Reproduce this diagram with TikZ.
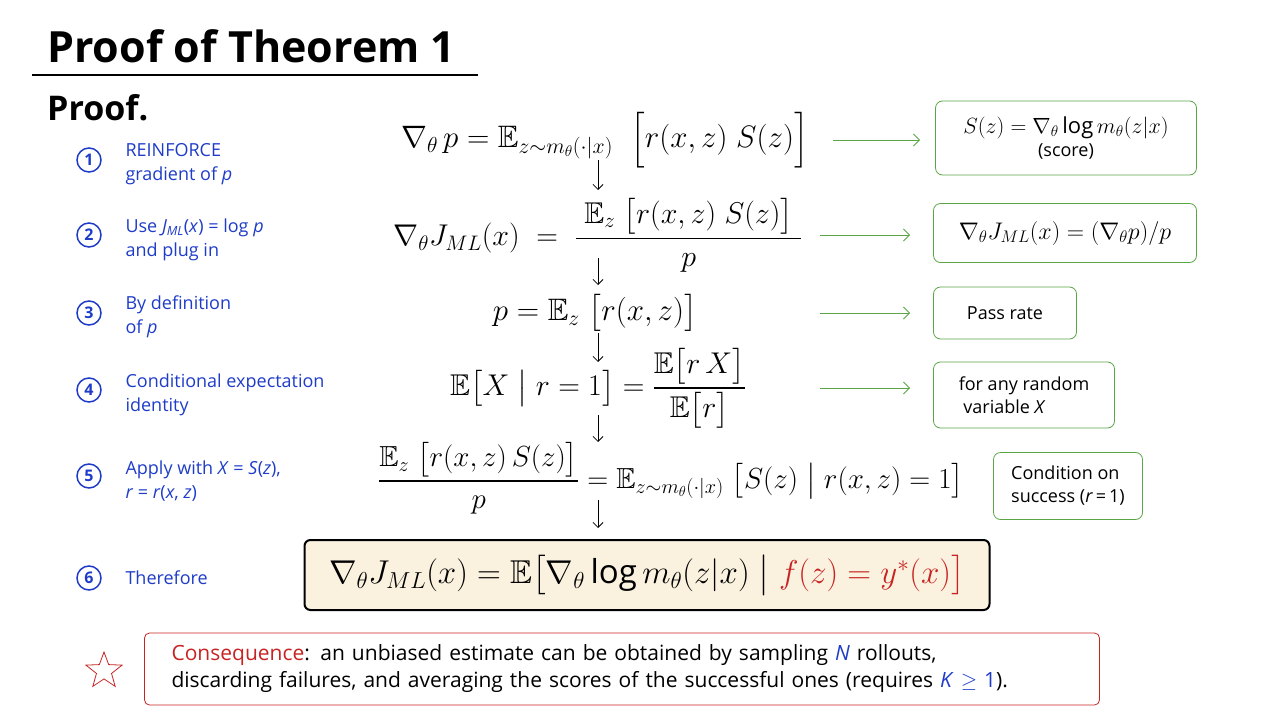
\RequirePackage{fix-cm}
\documentclass[tikz,border=0pt]{standalone}
\usepackage{amsmath,amssymb}
\usepackage{xcolor}
\usepackage{fontspec}
\setmainfont{Open Sans}
\usepackage{tikz}
\usetikzlibrary{shapes.geometric, arrows.meta, positioning}

\definecolor{stepblue}{RGB}{30,60,200}
\definecolor{notegreen}{RGB}{90,165,70}
\definecolor{conred}{RGB}{200,35,35}
\definecolor{cream}{RGB}{250,241,222}

\tikzset{
  num/.style={circle, draw=stepblue, line width=1.5pt, text=stepblue, minimum size=24pt, inner sep=0pt, font=\fontsize{16}{16}\selectfont\bfseries},
  steptext/.style={anchor=west, align=left, text=stepblue, font=\fontsize{18}{24}\selectfont},
  eqn/.style={inner sep=1pt, font=\fontsize{30}{36}\selectfont},
  note/.style={draw=notegreen, thick, rounded corners=7pt, align=center, font=\fontsize{18}{23}\selectfont},
  down/.style={-{Straight Barb[length=5pt]}, thick},
  garrow/.style={-{Straight Barb[length=6pt]}, notegreen, thick}
}

\begin{document}
\begin{tikzpicture}[x=1pt, y=-1pt]
        \useasboundingbox (0,0) rectangle (1280,720);

        % Titel
        \node[anchor=base west, inner sep=0pt, font=\fontsize{43}{50}\selectfont\bfseries] (title) at (47,62) {Proof of Theorem 1};
        \draw[line width=2.5pt] (32,75) -- (478,75);
        \node[anchor=west, inner sep=0pt, font=\fontsize{34}{40}\selectfont\bfseries] (proof) at (47,108) {Proof.};

        % Schritte links
        \node[num] (num1) at (89,160) {1};
        \node[steptext] (step1) at (122,164) {REINFORCE\\gradient of \textit{p}};
        \node[num] (num2) at (89,235) {2};
        \node[steptext] (step2) at (122,240) {Use \textit{J\textsubscript{ML}}(\textit{x}) = log \textit{p}\\and plug in};
        \node[num] (num3) at (89,313) {3};
        \node[steptext] (step3) at (122,317) {By definition\\of \textit{p}};
        \node[num] (num4) at (89,390) {4};
        \node[steptext] (step4) at (122,395) {Conditional expectation\\identity};
        \node[num] (num5) at (89,476) {5};
        \node[steptext] (step5) at (122,481) {Apply with \textit{X} = \textit{S}(\textit{z}),\\\textit{r} = \textit{r}(\textit{x}, \textit{z})};
        \node[num] (num6) at (89,578) {6};
        \node[steptext] (step6) at (122,578) {Therefore};

        % Gleichungen
        \node[eqn, font=\fontsize{31}{36}\selectfont] (eqGrad) at (605,140) {$\nabla_{\theta}\, p = \mathbb{E}_{z\sim m_\theta(\cdot|x)}\;\; \Bigl[ r(x,z)\; S(z) \Bigr]$};
        \node[eqn] (eqJ) at (598,235) {$\nabla_\theta J_{ML}(x) \;=\; \dfrac{\;\mathbb{E}_z \;\bigl[r(x,z)\; S(z)\bigr]\;}{p}$};
        \node[eqn, font=\fontsize{31}{36}\selectfont] (eqPass) at (595,313) {$p = \mathbb{E}_z \;\bigl[r(x,z)\bigr]$};
        \node[eqn] (eqCond) at (598,388) {$\mathbb{E}\bigl[X \bigm| r=1\bigr] = \dfrac{\mathbb{E}\bigl[r\,X\bigr]}{\mathbb{E}\bigl[r\bigr]}$};
        \node[eqn, font=\fontsize{29}{34}\selectfont] (eqApply) at (671,478) {$\dfrac{\mathbb{E}_z\;\bigl[r(x,z)\,S(z)\bigr]}{p} = \mathbb{E}_{z\sim m_\theta(\cdot|x)}\;\bigl[S(z)\bigm| r(x,z)=1\bigr]$};
        \node[draw, line width=2pt, rounded corners=6pt, fill=cream, minimum width=685pt, minimum height=70pt, font=\fontsize{33}{38}\selectfont] (result) at (647,575)
            {$\nabla_\theta J_{ML}(x) = \mathbb{E}\bigl[\nabla_\theta \log m_\theta(z|x) \bigm| \color{conred} f(z) = y^*(x)\bigr]$};

        \coordinate (axis) at (598,0);
        \draw[down] (eqGrad -| axis) ++(0,20) -- ++(0,30);
        \draw[down] (eqJ -| axis) ++(0,23) -- ++(0,27);
        \draw[down] (eqPass -| axis) ++(0,20) -- ++(0,29);
        \draw[down] (eqCond -| axis) ++(0,27) -- ++(0,27);
        \draw[down] (eqApply -| axis) ++(0,22) -- ++(0,28);

        % Hinweise rechts
        \node[note, minimum width=261pt, minimum height=74pt] (noteScore) at (1066,138) {{\fontsize{22}{26}\selectfont$S(z) = \nabla_\theta \log m_\theta(z|x)$}\\(score)};
        \node[note, minimum width=263pt, minimum height=59pt] (noteRatio) at (1065,233) {{\fontsize{24}{28}\selectfont$\nabla_\theta J_{ML}(x) = (\nabla_\theta p)/p$}};
        \node[note, minimum width=143pt, minimum height=52pt] (notePass) at (1005,313) {Pass rate};
        \node[note, minimum width=181pt, minimum height=66pt, align=left] (noteAny) at (1024,395) {for any random\\\ variable \textit{X}};
        \node[note, minimum width=149pt, minimum height=67pt, align=left] (noteSucc) at (1068,486) {Condition on\\success (\textit{r}\,=\,1)};

        \coordinate (gstart) at (820,0);
        \coordinate (gend) at (910,0);
        \coordinate (gstartA) at (833,0);
        \coordinate (gendA) at (920,0);
        \draw[garrow] (eqGrad -| gstartA) -- (eqGrad -| gendA);
        \draw[garrow] (eqJ -| gstart) -- (eqJ -| gend);
        \draw[garrow] (eqPass -| gstart) -- (eqPass -| gend);
        \draw[garrow] (eqCond -| gstart) -- (eqCond -| gend);

        % Folgerung
        \node[star, star points=5, star point ratio=2.4, draw=conred, thick, minimum size=38pt, inner sep=0pt] (star) at (104,671) {};
        \node[draw=conred, thick, rounded corners=5pt, text width=901pt, inner xsep=27pt, minimum height=72pt, align=left, font=\fontsize{21}{27}\selectfont] (consequence) at (622,669)
            {{\color{conred}Consequence}: an unbiased estimate can be obtained by sampling {\color{stepblue}\textit{N}} rollouts,\\
             discarding failures, and averaging the scores of the successful ones (requires {\color{stepblue}\textit{K} $\geq$ 1}).};
    \end{tikzpicture}
\end{document}
